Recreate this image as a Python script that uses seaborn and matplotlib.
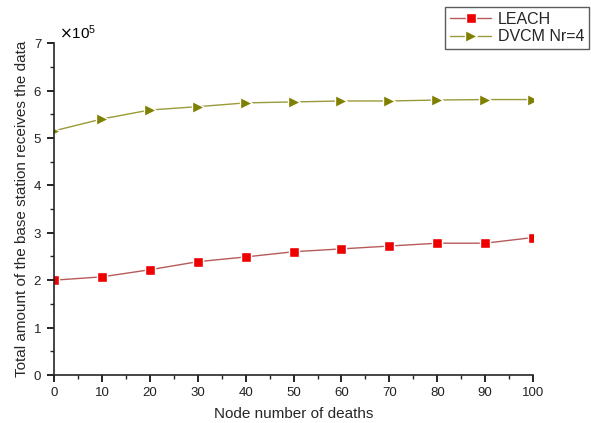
import matplotlib
matplotlib.use("Agg")
import matplotlib.pyplot as plt
import seaborn as sns
import pandas as pd
from matplotlib.ticker import ScalarFormatter, MultipleLocator

deaths = [0, 10, 20, 30, 40, 50, 60, 70, 80, 90, 100]
leach = [200000, 207000, 222000, 239000, 249000, 260000, 266000, 272000, 278000, 278000, 290000]
dvcm = [515000, 540000, 559000, 566000, 574000, 576000, 578000, 578000, 580000, 581000, 581000]
series_names = ["LEACH", "DVCM Nr=4"]

df = pd.DataFrame({
    "deaths": deaths * 2,
    "amount": leach + dvcm,
    "series": [series_names[0]] * len(deaths) + [series_names[1]] * len(deaths),
})

sns.set_style("ticks")
plt.rcParams["font.family"] = ["Liberation Sans", "DejaVu Sans"]

fig = plt.figure(figsize=(5.91, 4.23), dpi=100)
ax = fig.add_axes([0.0914, 0.1135, 0.8106, 0.7845])

styles = {
    "LEACH": dict(line="#b85a5a", marker="s", mcolor="#ee0000", ms=6.5),
    "DVCM Nr=4": dict(line="#9a9a3a", marker=">", mcolor="#808000", ms=8),
}
for name in series_names:
    st = styles[name]
    sub = df[df["series"] == name]
    sns.lineplot(data=sub, x="deaths", y="amount", ax=ax, color=st["line"], lw=1,
                 marker=st["marker"], markersize=st["ms"], markerfacecolor=st["mcolor"],
                 markeredgecolor="white", markeredgewidth=1.0, label=name)

ax.set_xlim(0, 100)
ax.set_ylim(0, 700000)
ax.xaxis.set_major_locator(MultipleLocator(10))
ax.xaxis.set_minor_locator(MultipleLocator(5))
ax.yaxis.set_major_locator(MultipleLocator(100000))
ax.yaxis.set_minor_locator(MultipleLocator(50000))

fmt = ScalarFormatter(useMathText=True)
fmt.set_powerlimits((5, 5))
ax.yaxis.set_major_formatter(fmt)
off = ax.yaxis.get_offset_text()
off.set_fontsize(11)
off.set_color("#333333")
off.set_x(0.01)

for s in ["top", "right"]:
    ax.spines[s].set_visible(False)
for s in ["left", "bottom"]:
    ax.spines[s].set_linewidth(1.2)
ax.tick_params(which="major", length=5, width=1.2, labelsize=9.5, colors="black")
ax.tick_params(which="minor", length=3, width=1.0)
for lbl in ax.get_xticklabels() + ax.get_yticklabels():
    lbl.set_color("#222222")

ax.set_xlabel("Node number of deaths", fontsize=11, labelpad=6)
ax.set_ylabel("Total amount of the base station receives the data", fontsize=11, labelpad=3)

handles, labels = ax.get_legend_handles_labels()
ax.get_legend().remove()
leg = fig.legend(handles, labels, loc="upper right", bbox_to_anchor=(589 / 591, 1 - 7 / 423),
                 bbox_transform=fig.transFigure, frameon=True, fancybox=False,
                 fontsize=11.5, handlelength=2.6, borderpad=0.3, labelspacing=0.15,
                 handletextpad=0.4, borderaxespad=0)
leg.get_frame().set_edgecolor("#333333")
leg.get_frame().set_linewidth(1.0)

fig.savefig("out.png", dpi=100)
